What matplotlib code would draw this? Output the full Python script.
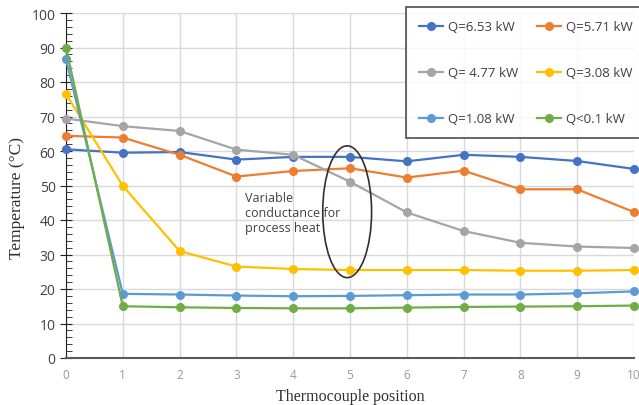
import matplotlib
matplotlib.use("Agg")
import matplotlib.pyplot as plt
from matplotlib.patches import Ellipse
from matplotlib.ticker import MultipleLocator

# thermocouple readings along the pipe, one list per heat load
positions = [0, 1, 2, 3, 4, 5, 6, 7, 8, 9, 10]
q653 = [60.5, 59.5, 59.7, 57.5, 58.3, 58.3, 57.0, 58.9, 58.3, 57.1, 54.8]
q571 = [64.4, 63.9, 58.9, 52.6, 54.2, 55.0, 52.3, 54.3, 48.9, 48.9, 42.3]
q477 = [69.4, 67.2, 65.8, 60.4, 58.9, 51.1, 42.2, 36.8, 33.4, 32.3, 31.9]
q308 = [76.5, 49.9, 31.0, 26.5, 25.8, 25.5, 25.5, 25.5, 25.3, 25.3, 25.5]
q108 = [86.6, 18.6, 18.4, 18.1, 17.9, 18.0, 18.2, 18.4, 18.4, 18.75, 19.3]
q01 = [90.0, 15.0, 14.7, 14.5, 14.4, 14.4, 14.6, 14.8, 14.9, 15.0, 15.2]

series = [
    ("Q=6.53 kW", q653, "#4472C4"),
    ("Q=5.71 kW", q571, "#ED7D31"),
    ("Q= 4.77 kW", q477, "#A5A5A5"),
    ("Q=3.08 kW", q308, "#FFC000"),
    ("Q=1.08 kW", q108, "#5B9BD5"),
    ("Q<0.1 kW", q01, "#70AD47"),
]

fig = plt.figure(figsize=(6.39, 4.06), dpi=100)
ax = fig.add_axes([66 / 639, 1 - 359 / 406, (634 - 66) / 639, (359 - 14) / 406])

handles = []
for name, vals, col in series:
    ln, = ax.plot(positions, vals, color=col, lw=1.6, marker="o", ms=5.5,
                  label=name, clip_on=False, zorder=3)
    handles.append(ln)

ax.set_xlim(0, 10)
ax.set_ylim(0, 100)
ax.xaxis.set_major_locator(MultipleLocator(1))
ax.yaxis.set_major_locator(MultipleLocator(10))
ax.yaxis.set_minor_locator(MultipleLocator(2))
ax.grid(True, which="major", color="#d9d9d9", lw=1.0, zorder=0)

for s in ["top", "right"]:
    ax.spines[s].set_visible(False)
ax.spines["left"].set_color("#202020")
ax.spines["bottom"].set_color("#595959")
ax.spines["bottom"].set_linewidth(1.5)
ax.tick_params(axis="y", which="major", direction="inout", length=8,
               color="#202020", labelsize=10, labelcolor="#404040")
ax.tick_params(axis="y", which="minor", direction="in", length=4,
               color="#202020")
ax.tick_params(axis="x", length=0, pad=7, labelsize=8.5, labelcolor="#999999")
for lab in ax.get_xticklabels() + ax.get_yticklabels():
    lab.set_family("Open Sans")

ax.set_xlabel("Thermocouple position", family="Liberation Serif",
              fontsize=11.5, color="#303030", labelpad=5)
ax.set_ylabel("Temperature (\u00b0C)", family="Liberation Serif",
              fontsize=12.5, color="#303030")
ax.yaxis.set_label_coords(-0.072, 0.467)

# note about the variable conductance region
ax.add_patch(Ellipse((4.95, 42.4), 0.86, 38.2, fill=False,
                     edgecolor="#303030", lw=1.2, zorder=4))
ax.text(3.15, 48.3, "Variable\nconductance for\nprocess heat",
        family="Open Sans", fontsize=9, color="#404040",
        va="top", ha="left", linespacing=1.2, zorder=5)

# legend filled row by row: reorder for matplotlib's column-major layout
order = [0, 2, 4, 1, 3, 5]
leg = fig.legend([handles[i] for i in order], [series[i][0] for i in order],
                 loc="upper left", bbox_to_anchor=(406 / 639, 1 - 8 / 406),
                 ncol=2, frameon=True, fancybox=False, edgecolor="#202020",
                 prop={"family": "Open Sans", "size": 9.5},
                 handlelength=1.8, handletextpad=0.4, columnspacing=1.4,
                 labelspacing=2.5, borderpad=1.0, borderaxespad=0)
leg.get_frame().set_linewidth(1.2)
for t in leg.get_texts():
    t.set_color("#404040")

fig.savefig("out.png", dpi=100)
